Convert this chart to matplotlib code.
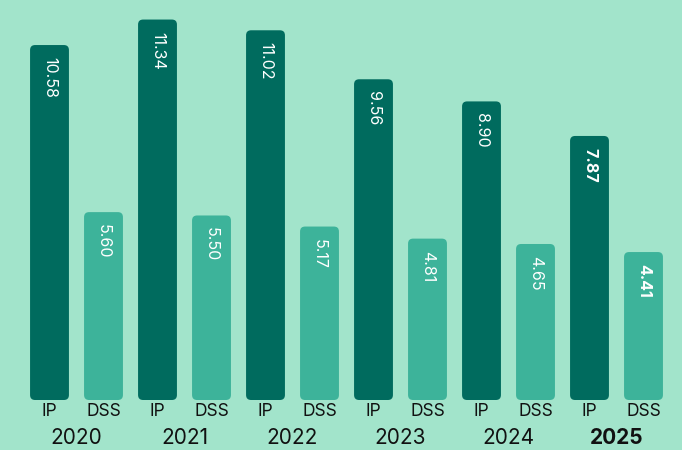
import matplotlib
matplotlib.use("Agg")
import matplotlib.pyplot as plt
from matplotlib.patches import FancyBboxPatch

years = ["2020", "2021", "2022", "2023", "2024", "2025"]
series = ["IP", "DSS"]
ip_values = [10.58, 11.34, 11.02, 9.56, 8.90, 7.87]
dss_values = [5.60, 5.50, 5.17, 4.81, 4.65, 4.41]

bg = "#a2e4cb"
ip_color = "#006b5e"
dss_color = "#3db39a"

plt.rcParams['font.family'] = ['Inter', 'DejaVu Sans']

fig = plt.figure(figsize=(6.82, 4.5), dpi=100, facecolor=bg)
# axes spans the full width; baseline sits 50 px above the bottom
ax = fig.add_axes([0, 50 / 450, 1, 400 / 450])
ax.set_facecolor(bg)
px_x = 54.0          # pixels per bar slot
px_y = 33.55         # pixels per unit
ax.set_xlim(-49.5 / px_x, (682 - 49.5) / px_x)
ax.set_ylim(0, 400 / px_y)
ax.axis("off")

width = 0.72
r = 5 / px_x
for i, year in enumerate(years):
    last = i == len(years) - 1
    for j, (vals, col) in enumerate([(ip_values, ip_color), (dss_values, dss_color)]):
        x = 2 * i + j
        v = vals[i]
        box = FancyBboxPatch((x - width / 2, 0), width, v,
                             boxstyle="round,pad=0,rounding_size=%f" % r,
                             mutation_aspect=px_x / px_y,
                             facecolor=col, edgecolor="none")
        ax.add_patch(box)
        ax.text(x, v - 12 / px_y, "%.2f" % v, rotation=-90, ha="center", va="top",
                color="white", fontsize=11.5,
                fontweight="bold" if last else "normal")
        ax.text(x, -12 / px_y, series[j], ha="center", va="center",
                fontsize=12.5, color="#111111", clip_on=False)
    ax.text(2 * i + 0.5, -38 / px_y, year, ha="center", va="center",
            fontsize=15, color="#111111", clip_on=False,
            fontweight="bold" if last else "normal")

fig.savefig("out.png", dpi=100, facecolor=bg)
